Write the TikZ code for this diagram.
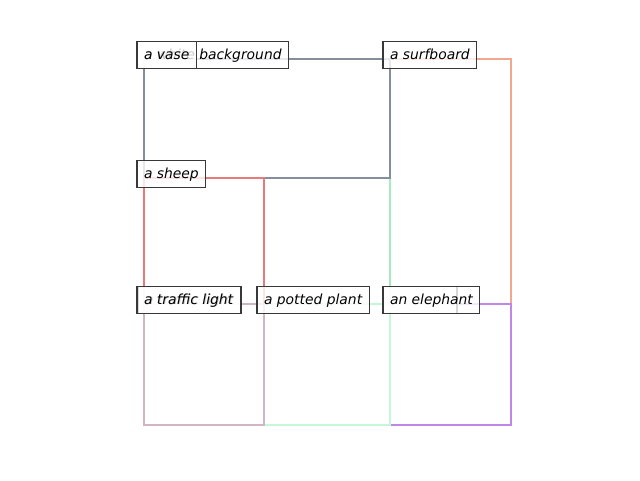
\documentclass[tikz,border=0pt]{standalone}
\usepackage{fontspec}
\newfontfamily\dejavu{DejaVu Sans}
\usetikzlibrary{calc}

\definecolor{bggray}{RGB}{134,142,156}
\definecolor{sheepred}{RGB}{232,122,122}
\definecolor{lightpink}{RGB}{212,180,196}
\definecolor{midgreen}{RGB}{166,234,196}
\definecolor{plantgreen}{RGB}{196,248,216}
\definecolor{surforange}{RGB}{240,168,144}
\definecolor{elepurple}{RGB}{192,136,230}

\begin{document}
\begin{tikzpicture}[x=0.75pt, y=-0.75pt,
        bbox/.style={line width=1.9pt},
        lbl/.style={draw=black!78, line width=0.8pt, fill=white, fill opacity=0.8, text opacity=1,
            inner xsep=5.25pt, inner ysep=5.25pt, outer sep=0pt, text height=7.9pt, text depth=1.6pt,
            font=\dejavu\itshape\fontsize{10.4}{12}\selectfont, anchor=base west}]
        \useasboundingbox (0,0) rectangle (640,480);

        % boxes, lowest first
        \draw[bbox, surforange] (390,59) rectangle (511,304);
        \draw[bbox, elepurple] (390,304) rectangle (511,425);
        \draw[bbox, midgreen] (264,178) rectangle (390,304);
        \draw[bbox, plantgreen] (264,304) rectangle (390,425);
        \foreach \i in {1,2}
            \draw[bbox, bggray] (144,59) rectangle (390,178);
        \draw[bbox, sheepred] (144,178) rectangle (264,304);
        \draw[bbox, lightpink] (144,304) rectangle (264,425);

        % labels
        \node[lbl] (bglabel) at (137,59) {a white background};
        \node[lbl] (vaselabel) at (137,59) {a vase};
        \node[lbl] (surflabel) at (383,59) {a surfboard};
        \node[lbl] (sheeplabel) at (137,178) {a sheep};
        \node[lbl] (tlghost) at (138,304) {a traffic light};
        \node[lbl] (tllabel) at (137,304) {a traffic light};
        \node[lbl] (plantlabel) at (257,304) {a potted plant};
        \node[lbl, minimum width=55.5pt] (eleghost) at (383,304) {};
        \node[lbl] (elelabel) at (383,304) {an elephant};
    \end{tikzpicture}
\end{document}
